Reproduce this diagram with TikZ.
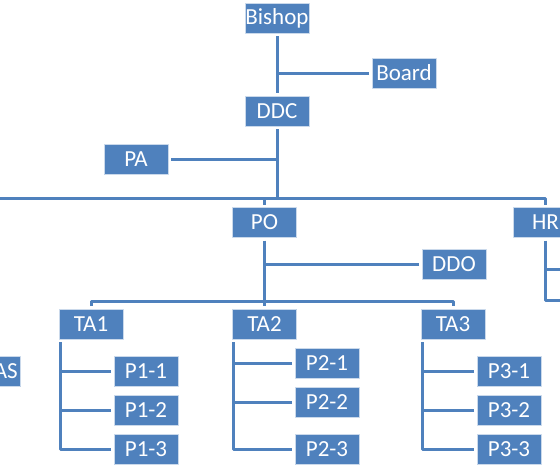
\documentclass[tikz,border=0pt]{standalone}
\usepackage{fontspec}
\setmainfont{Carlito}
\definecolor{orgblue}{HTML}{4F81BD}
\tikzset{
  unit/.style={fill=orgblue, draw=white!70!orgblue, line width=.8pt, text=white,
    minimum width=64pt, minimum height=30pt, inner sep=0pt, outer sep=3pt,
    font=\fontsize{23}{23}\selectfont},
  link/.style={orgblue, line width=3pt}
}
\begin{document}
\begin{tikzpicture}[x=1pt, y=-1pt, line join=round]
\useasboundingbox (0,0) rectangle (560,467);
\clip (0,0) rectangle (560,467);
\node[unit] (Bishop) at (277,18) {Bishop};
\node[unit] (Board) at (404,73) {Board};
\node[unit] (DDC) at (277,111) {DDC};
\node[unit] (PA) at (136,159.5) {PA};
\node[unit] (PO) at (264.5,222.5) {PO};
\node[unit] (HR) at (545.5,222.5) {HR};
\node[unit] (DDO) at (454,264) {DDO};
\node[unit, text width=58pt, align=right] (AS) at (-11.3,371.5) {AS};
\foreach \t/\x in {1/91,2/264.5,3/453}
  \node[unit] (TA\t) at (\x,324) {TA\t};
\foreach \j/\y in {1/371.5,2/410,3/449.5} {
  \node[unit] (P1-\j) at (146,\y) {P1-\j};
  \node[unit] (P3-\j) at (509,\y) {P3-\j};
}
\foreach \j/\y in {1/363,2/402,3/449.5}
  \node[unit] (P2-\j) at (327,\y) {P2-\j};
\path (0,198) coordinate (bus) (264.5,301) coordinate (tabus)
  (562,269) coordinate (HRa) (562,300) coordinate (HRb);
% top of the chart
\draw[link] (Bishop.south) -- (DDC.north);
\draw[link] (Board.west) -- (Board.west -| Bishop.south);
\draw[link] (DDC.south) -- (DDC.south |- bus);
\draw[link] (PA.east) -- (PA.east -| DDC.south);
\draw[link] (bus) -| (HR.north);
\draw[link] (PO.north) -- (PO.north |- bus);
\draw[link] (HR.south) |- (HRb);
\draw[link] (HRa) -- (HRa -| HR.south);
% PO and the TAs
\draw[link] (PO.south) -- (tabus) -- (TA2.north);
\draw[link] (TA1.north) |- (tabus) -| (TA3.north);
\draw[link] (DDO.west) -- (DDO.west -| PO.south);
\foreach \t in {1,2,3} {
  \coordinate (trunk\t) at ([xshift=4pt]TA\t.south west);
  \draw[link] (trunk\t) |- (P\t-3.west);
  \foreach \j in {1,2}
    \draw[link] (P\t-\j.west) -- (P\t-\j.west -| trunk\t);
}
\end{tikzpicture}
\end{document}
